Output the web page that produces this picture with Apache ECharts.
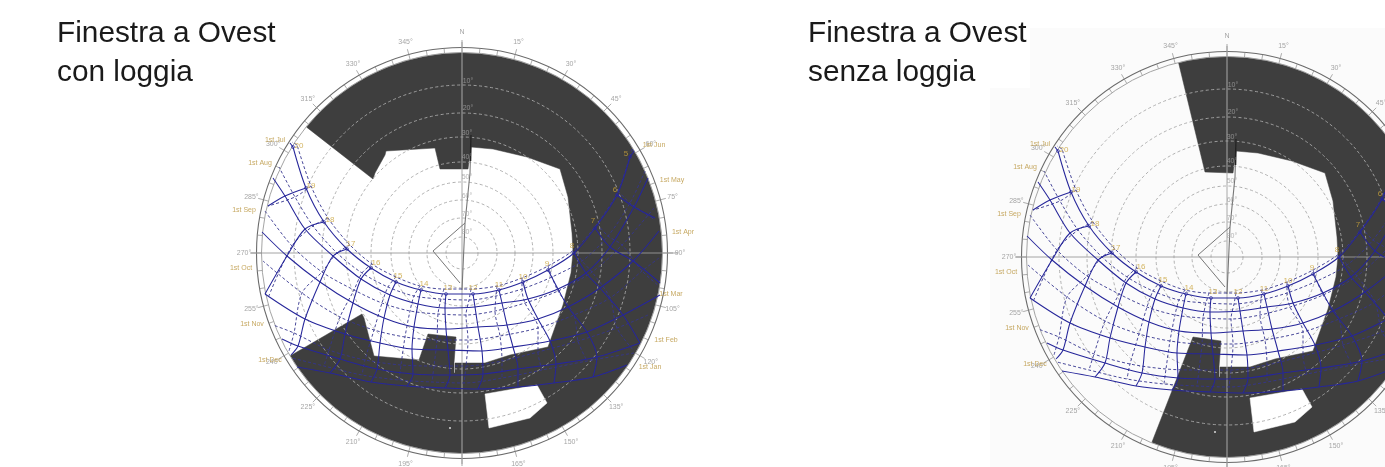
<!DOCTYPE html>
<html><head><meta charset="utf-8">
<style>html,body{margin:0;padding:0;background:#fff}#c{width:1385px;height:467px;filter:blur(0.4px)}</style>
<script src="https://cdn.jsdelivr.net/npm/echarts@6/dist/echarts.min.js"></script>
</head><body><div id="c"></div>
<script>
// Diagram units: x to the east, y to the north. Each point: [hour (0 = horizon end), x, y]
const jan=[[0,165,-112],[9,131,-124],[10,92,-130],[11,56,-134],[12,16,-136],[13,-17,-135],[14,-55,-133],[15,-91,-129],[16,-132,-120],[0,-165,-114]];
const feb=[[8,178,-90],[9,135,-104],[10,94,-111],[11,56,-116],[12,21,-121],[13,-12,-122],[14,-49,-121],[15,-85,-116],[16,-122,-106],[17,-164,-93],[0,-180,-86]];
const mar=[[0,198,-42],[8,161,-62],[9,125,-79],[10,88,-88],[11,51,-94],[12,20,-98],[13,-14,-97],[14,-50,-96],[15,-82,-90],[16,-117,-81],[17,-157,-66],[0,-197,-41]];
const apr=[[0,197,22],[7,171,-8],[8,138,-35],[9,106,-54],[10,76,-66],[11,45,-72],[12,16,-74],[13,-16,-76],[14,-48,-74],[15,-78,-65],[16,-109,-50],[17,-142,-29],[18,-175,-3],[0,-200,21]];
const may=[[0,186,75],[6,172,46],[7,148,6],[8,124,-20],[9,96,-36],[10,66,-46],[11,40,-50],[12,13,-54],[13,-17,-55],[14,-44,-51],[15,-72,-42],[16,-101,-26],[17,-129,-3],[18,-157,24],[19,-177,57],[0,-189,75]];
const jun=[[5,168,96],[6,155,58],[7,133,25],[8,112,0],[9,86,-17],[10,61,-29],[11,37,-37],[12,11,-41],[13,-16,-41],[14,-41,-37],[15,-66,-29],[16,-91,-15],[17,-115,4],[18,-138,31],[19,-156,65],[20,-169,106]];
const jul=[[5,170,104],[6,156,62],[7,135,29],[8,113,4],[9,86,-13],[10,60,-25],[11,35,-33],[12,9,-36],[13,-18,-36],[14,-42,-33],[15,-66,-24],[16,-90,-11],[17,-112,8],[18,-134,35],[19,-151,67],[20,-165,108]];
const aug=[[0,183,82],[6,168,50],[7,146,17],[8,120,-8],[9,90,-24],[10,60,-36],[11,34,-43],[12,7,-47],[13,-21,-46],[14,-48,-43],[15,-74,-34],[16,-100,-20],[17,-125,0],[18,-149,27],[19,-167,56],[0,-183,86]];
const sep=[[0,192,45],[7,160,8],[8,130,-19],[9,96,-38],[10,63,-50],[11,33,-58],[12,4,-62],[13,-24,-61],[14,-52,-58],[15,-80,-50],[16,-108,-37],[17,-140,-19],[18,-170,7],[0,-197,42]];
const oct=[[0,197,-5],[7,180,-18],[8,148,-45],[9,112,-62],[10,76,-75],[11,38,-83],[12,6,-87],[13,-25,-87],[14,-57,-84],[15,-88,-77],[16,-122,-64],[17,-160,-40],[0,-199,-8]];
const nov=[[0,186,-62],[8,155,-75],[9,116,-88],[10,76,-99],[11,40,-108],[12,4,-113],[13,-28,-113],[14,-61,-112],[15,-97,-107],[16,-133,-97],[17,-168,-80],[0,-189,-72]];
const dec=[[0,172,-100],[9,125,-108],[10,80,-117],[11,40,-125],[12,2,-130],[13,-30,-129],[14,-63,-127],[15,-100,-122],[16,-138,-113],[0,-170,-105]];
const solidHourEnds={5:[172,102],6:[193,35],7:[198,-30],17:[-171,-102],18:[-197,-41],19:[-194,47],20:[-172,110]};
const dashedHourEnds={5:[173,100],6:[193,33],7:[197,-33],8:[172,-98],17:[-173,-98],18:[-194,-45],19:[-194,47],20:[-170,111]};
const hours=[5,6,7,8,9,10,11,12,13,14,15,16,17,18,19,20];

const hourLabels=[['5',164,99],['6',153,63],['7',131,32],['8',110,7],['9',85,-11],['10',61,-24],['11',37,-32],['12',11,-35],['13',-14,-35],['14',-38,-31],['15',-64,-23],['16',-86,-10],['17',-111,9],['18',-132,33],['19',-151,67],['20',-163,107]];
const dateLabels=[['1st Jul',-187,113],['1st Aug',-202,90],['1st Sep',-218,43],['1st Oct',-221,-15],['1st Nov',-210,-71],['1st Dec',-192,-107],['1st Jun',192,108],['1st May',210,73],['1st Apr',221,21],['1st Mar',209,-41],['1st Feb',204,-87],['1st Jan',188,-114]];
const altitudeLabels=[['10°',6,172],['20°',6,145],['30°',5,120],['40°',5,96],['50°',5,76],['60°',5,57],['70°',5,39],['80°',5,21]];
const altitudeRadii=[168,140,116,91,71,53,35,16];
const azimuthLabels=[15,30,45,60,75,90,105,120,135,150,165,180,195,210,225,240,255,270,285,300,315,330,345];

// Shading masks: arcs by azimuth on the dark ring, then inner outline
const commonInner=[[6,84],[9,106],[31,104],[65,96],[98,84],[106,56],[110,20],[111,1],[109,-20],[101,-52],[86,-94],[48,-102],[23,-110],[-7,-110],[-7,-120],[-8,-120],[-8,-110],[-6,-84]];
const leftMaskArc=[309,599];
const leftMaskInner=[[-34,-81],[-43,-107],[-88,-103],[-98,-65],[-100,-61],[-172,-103]];
const leftMaskTail=[[-89,74],[-87,80],[-77,98],[-76,102],[-27,105],[-22,84]];
const rightMaskArc=[346,562];
const rightMaskInner=[[-34,-80],[-75,-185]];
const rightMaskTail=[[-22,85]];
const whiteHole=[[23,-141],[75,-132],[85,-150],[68,-165],[27,-175]];
const pole=[[0,-37],[3,30],[8,80],[9,118]];
const diamond=[[3,30],[-29,2],[-2,-30]];
const poleDark=[[9,118],[8.5,92]];
const speck=[[-12,-175]];

const polar=(az,r)=>[r*Math.sin(az*Math.PI/180),r*Math.cos(az*Math.PI/180)];
function arcPts(a,b,r){const o=[];for(let z=a;z<=b;z+=2)o.push(polar(z,r));return o;}
const AX=i=>({gridIndex:i,type:'value',min:-240,max:240,show:false});

function diagram(g,arc,inner,tail){
  const base={xAxisIndex:g,yAxisIndex:g,animation:false,silent:true};
  const out=[];
  const poly=(pts,fill,z)=>({...base,type:'custom',z,clip:false,data:[[0,0]],renderItem:(p,api)=>({type:'polygon',shape:{points:pts.map(q=>api.coord(q))},style:{fill,stroke:fill,lineWidth:.5}})});
  const ln=(pts,color,width,dash,z,smooth)=>({...base,type:'line',z,data:pts,showSymbol:false,smooth:smooth||0,lineStyle:{color,width,type:dash||'solid'},clip:false});
  const lab=(rows,color,size,z)=>({...base,type:'scatter',z,symbolSize:0,data:rows.map(r=>[r[1],r[2],r[0]]),clip:false,label:{show:true,position:'inside',color,fontSize:size,fontFamily:'Liberation Sans',formatter:p=>p.data[2]}});
  const mask=[...arcPts(arc[0],arc[1],200),...outline(inner,tail)];
  out.push(poly(mask,'#3e3e3e',1));
  out.push(poly(whiteHole,'#ffffff',2));
  const circ=(radii,stroke,w,dash,z)=>({...base,type:'custom',z,clip:false,data:radii.map(r=>[r]),encode:{x:0},renderItem:(p,api)=>{const c=api.coord([0,0]);const r=api.size([api.value(0),0])[0];return{type:'circle',shape:{cx:c[0],cy:c[1],r},style:{fill:'none',stroke,lineWidth:w,lineDash:dash}}}});
  out.push(circ(altitudeRadii,'#a8a8a8',.9,[3,2.5],3));
  out.push(circ([200.5],'#9a9a9a',.9,null,3));
  out.push(circ([205.5],'#6a6a6a',1.1,null,3));
  out.push(ln([[-212,0],[216,0]],'#9a9a9a',.9,null,4));
  out.push(ln([[0,213],[0,-213]],'#a8a8a8',1,null,4));
  out.push(ln(pole,'#777777',1.1,null,4));
  out.push(ln(diamond,'#777777',1,null,4));
  out.push(ln(poleDark,'#222222',1.6,null,4));
  for(let z=0;z<360;z+=5){const major=z%15===0;out.push(ln([polar(z,200.5),polar(z,major?211:205.5)],'#8a8a8a',.7,null,4));}
  const solid=[jan,feb,mar,apr,may,jun],dashed=[jul,aug,sep,oct,nov,dec];
  const sc='#26269a',dc='#34348e';
  const xy=r=>r.map(p=>[p[1],p[2]]);
  solid.forEach(r=>out.push(ln(xy(r),sc,1.05,null,6,.3)));
  dashed.forEach(r=>out.push(ln(xy(r),dc,.9,[3,2.2],5,.3)));
  const hourLine=(rows,ends,isSolid)=>hours.forEach(h=>{
    const pts=[];rows.forEach(r=>{const f=r.find(p=>p[0]===h);if(f)pts.push([f[1],f[2]]);});
    if(ends[h])pts.push(ends[h]);
    if(pts.length>1)out.push(ln(pts,isSolid?sc:dc,isSolid?1.05:.9,isSolid?null:[3,2.2],isSolid?6:5,.3));
  });
  hourLine(solid.slice().reverse(),solidHourEnds,true);
  hourLine(dashed,dashedHourEnds,false);
  out.push(lab(altitudeLabels,'#a0a0a0',7,7));
  out.push(lab(azimuthLabels.map(a=>{const q=polar(a,218);return[a+'°',q[0],q[1]]}).concat([['N',0,221]]),'#8f8f8f',7,7));
  out.push(lab(hourLabels,'#c9a33a',8,8));
  out.push(lab(dateLabels,'#b8923a',7,8));
  out.push({...base,type:'scatter',z:8,symbolSize:2,itemStyle:{color:'#fff'},data:speck,clip:false});
  out.push({...base,type:'scatter',z:7,symbolSize:3,itemStyle:{color:'none',borderColor:'#26269a',borderWidth:.8},data:xy(jun),clip:false});
  return out;
}
function outline(inner,tail){
  return [...inner.slice().reverse(),...commonInner.slice().reverse(),...tail.slice().reverse()];
}
const chart=echarts.init(document.getElementById('c'),null,{renderer:'canvas'});
const titleStyle={fontFamily:'Liberation Sans',fontSize:29.8,fontWeight:'normal',color:'#1a1a1a',lineHeight:39};
chart.setOption({
  backgroundColor:'#ffffff',animation:false,
  title:[
    {text:'Finestra a Ovest\ncon loggia',left:52,top:9,textStyle:titleStyle},
    {text:'Finestra a Ovest\nsenza loggia',left:803,top:9,textStyle:titleStyle}
  ],
  graphic:[
    {type:'rect',z:-1,shape:{x:990,y:88,width:395,height:379},style:{fill:'#fbfbfb'}},
    {type:'rect',z:-1,shape:{x:1030,y:28,width:355,height:60},style:{fill:'#fbfbfb'}}
  ],
  grid:[{left:222,top:13,width:480,height:480,outerBoundsMode:'none'},{left:987,top:17,width:480,height:480,outerBoundsMode:'none'}],
  xAxis:[AX(0),AX(1)],yAxis:[AX(0),AX(1)],
  series:[...diagram(0,leftMaskArc,leftMaskInner,leftMaskTail),...diagram(1,rightMaskArc,rightMaskInner,rightMaskTail)]
});
</script></body></html>
